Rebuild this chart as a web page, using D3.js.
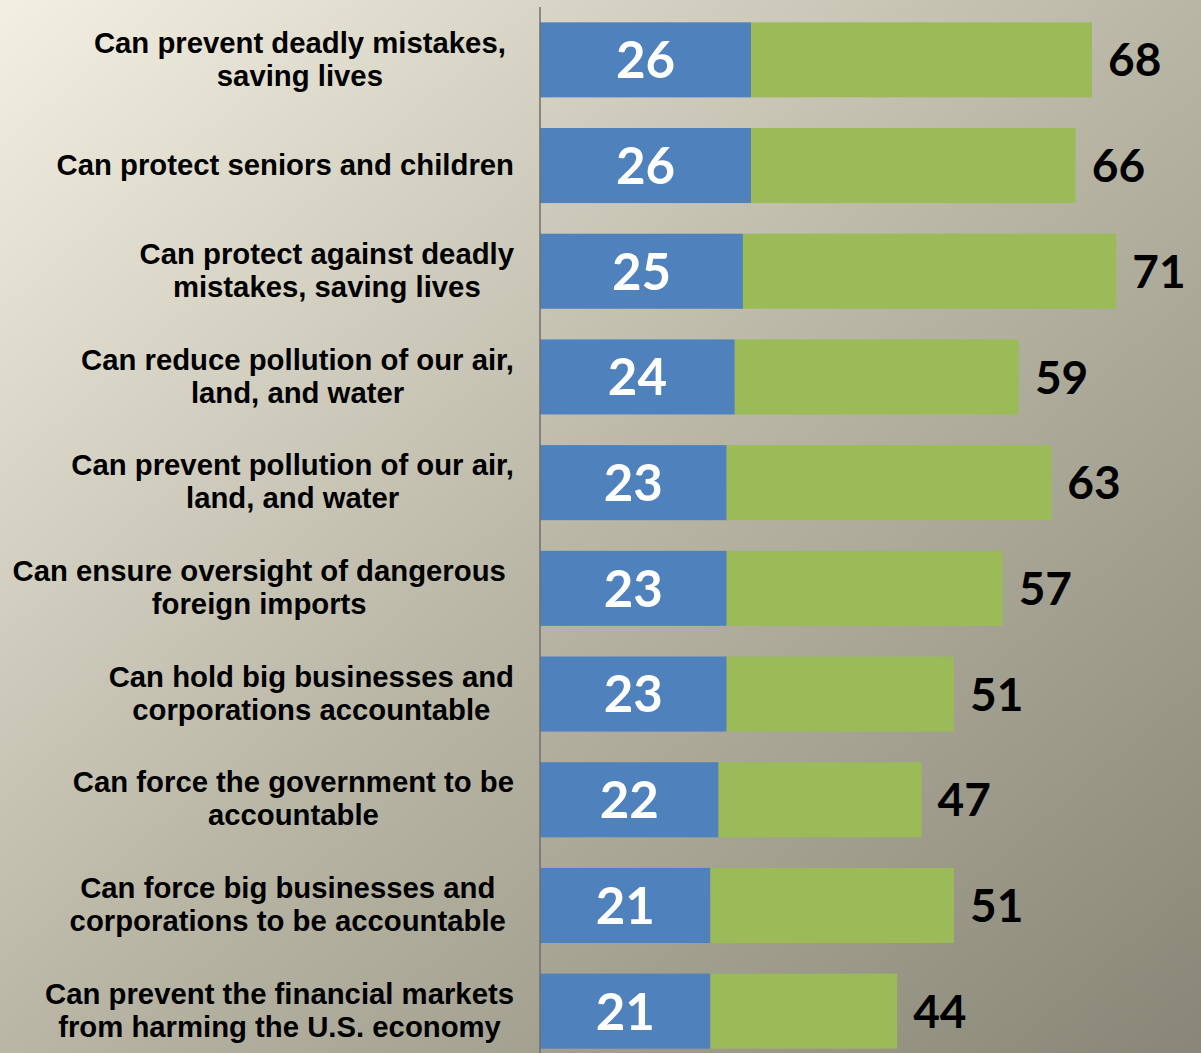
<!DOCTYPE html>
<html>
<head>
<meta charset="utf-8">
<script src="https://cdn.jsdelivr.net/npm/d3@7"></script>
<style>
  html, body { margin: 0; padding: 0; overflow: hidden; }
  svg { display: block; }
</style>
</head>
<body>
<script>
// statements, each split in the lines shown on the slide
var labels = [
  ['Can prevent deadly mistakes, ', 'saving lives'],
  ['Can protect seniors and children'],
  ['Can protect against deadly', 'mistakes, saving lives'],
  ['Can reduce pollution of our air,', 'land, and water'],
  ['Can prevent pollution of our air,', 'land, and water'],
  ['Can ensure oversight of dangerous ', 'foreign imports'],
  ['Can hold big businesses and', 'corporations accountable'],
  ['Can force the government to be', 'accountable'],
  ['Can force big businesses and', 'corporations to be accountable '],
  ['Can prevent the financial markets', 'from harming the U.S. economy']
];
var strong = [26, 26, 25, 24, 23, 23, 23, 22, 21, 21]; // blue part
var total = [68, 66, 71, 59, 63, 57, 51, 47, 51, 44];  // end of green part

var scr = { w: 1201, h: 1053 };
var axisX = 540;
var labelRight = 514;

var svg = d3.select('body')
            .append('svg')
            .attr('width', scr.w)
            .attr('height', scr.h);

var defs = svg.append('defs');
var grad = defs.append('linearGradient')
               .attr('id', 'bg')
               .attr('x1', 0).attr('y1', 0)
               .attr('x2', 1).attr('y2', 1);
grad.append('stop').attr('offset', '0%').attr('stop-color', '#f3f0e3');
grad.append('stop').attr('offset', '50%').attr('stop-color', '#b9b6a6');
grad.append('stop').attr('offset', '100%').attr('stop-color', '#888676');

svg.append('rect')
   .attr('width', scr.w)
   .attr('height', scr.h)
   .attr('fill', 'url(#bg)');

var idx = d3.range(labels.length);

var yScale = d3.scaleBand()
               .domain(idx)
               .range([7, 1064])
               .paddingInner(0.29)
               .paddingOuter(0.145);

var xScale = d3.scaleLinear()
               .domain([0, 100])
               .range([axisX, axisX + 811.7]);

var rows = svg.selectAll('g.row')
              .data(idx)
              .enter()
              .append('g')
              .classed('row', true)
              .attr('transform', function(i){ return 'translate(0,' + yScale(i) + ')'; });

var bh = yScale.bandwidth();

rows.append('rect')
    .attr('x', xScale(0))
    .attr('y', 0)
    .attr('width', function(i){ return xScale(strong[i]) - xScale(0); })
    .attr('height', bh)
    .attr('fill', '#4f81bd');

rows.append('rect')
    .attr('x', function(i){ return xScale(strong[i]); })
    .attr('y', 0)
    .attr('width', function(i){ return xScale(total[i]) - xScale(strong[i]); })
    .attr('height', bh)
    .attr('fill', '#9bbb59');

rows.append('text')
    .attr('x', function(i){ return (xScale(0) + xScale(strong[i])) / 2; })
    .attr('y', bh / 2)
    .attr('dy', '0.36em')
    .attr('text-anchor', 'middle')
    .attr('fill', '#ffffff')
    .style('font-family', 'Lato, "Open Sans", sans-serif')
    .style('font-weight', 'bold')
    .style('font-size', '51px')
    .text(function(i){ return strong[i]; });

rows.append('text')
    .attr('x', function(i){ return xScale(total[i]) + 16; })
    .attr('y', bh / 2)
    .attr('dy', '0.36em')
    .attr('text-anchor', 'start')
    .attr('fill', '#000000')
    .style('font-family', 'Lato, "Open Sans", sans-serif')
    .style('font-weight', 'bold')
    .style('font-size', '46px')
    .text(function(i){ return total[i]; });

// category labels: centred block, right edge at labelRight
// (a trailing space on a line keeps the block's right edge a little further in)
var lineH = 33;
var labelFont = { family: '"Liberation Sans", Arial, sans-serif', size: '29.3px' };
var probe = svg.append('text')
               .style('font-family', labelFont.family)
               .style('font-weight', 'bold')
               .style('font-size', labelFont.size)
               .text('a a');
var probeA = svg.append('text')
                .style('font-family', labelFont.family)
                .style('font-weight', 'bold')
                .style('font-size', labelFont.size)
                .text('aa');
var spaceW = probe.node().getComputedTextLength() - probeA.node().getComputedTextLength();
probe.remove();
probeA.remove();

rows.each(function(i){
  var g = d3.select(this);
  var lines = labels[i];
  var t = g.append('text')
           .attr('fill', '#000000')
           .attr('text-anchor', 'middle')
           .style('font-family', labelFont.family)
           .style('font-weight', 'bold')
           .style('font-size', labelFont.size);
  var spans = t.selectAll('tspan')
               .data(lines)
               .enter()
               .append('tspan')
               .attr('y', function(d, k){ return bh / 2 - 1 + (k - (lines.length - 1) / 2) * lineH; })
               .attr('dy', '0.35em')
               .text(function(d){ return d.replace(/\s+$/, ''); });
  var widest = 0, trailW = 0;
  spans.each(function(d){
    var trail = (d.length - d.replace(/\s+$/, '').length) * spaceW;
    if (this.getComputedTextLength() + trail >= widest) {
      widest = this.getComputedTextLength() + trail;
      trailW = trail;
    }
  });
  spans.attr('x', labelRight - trailW - (widest - trailW) / 2);
});

svg.append('line')
   .attr('x1', axisX).attr('x2', axisX)
   .attr('y1', 7).attr('y2', scr.h)
   .attr('stroke', '#6e6e6e')
   .attr('stroke-width', 1.5);
</script>
</body>
</html>
